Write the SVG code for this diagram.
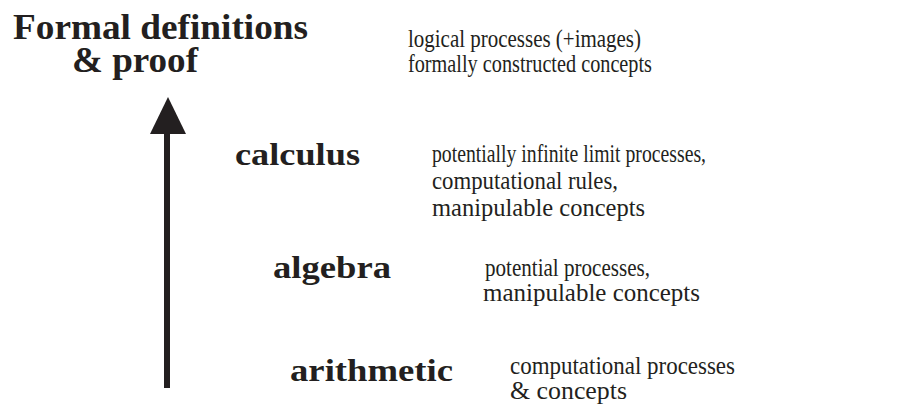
<svg xmlns="http://www.w3.org/2000/svg" width="912" height="407" viewBox="0 0 912 407">
<style>
.h{font-family:"Liberation Serif","Times New Roman",serif;font-weight:bold;fill:#231f20}
.d{font-family:"Liberation Serif","Times New Roman",serif;fill:#231f20;font-size:25px}
</style>
<rect width="912" height="407" fill="#fff"/>
<g id="connectors">
<line x1="167" y1="130" x2="167" y2="388" stroke="#231f20" stroke-width="6"/>
<polygon points="168,97 150,134 186,134" fill="#231f20"/>
</g>
<g id="formal">
<text class="h" x="13" y="39" font-size="36" textLength="295" lengthAdjust="spacingAndGlyphs">Formal definitions</text>
<text class="h" x="72" y="72" font-size="36" textLength="126" lengthAdjust="spacingAndGlyphs">&amp; proof</text>
<text class="d" x="408" y="47" textLength="233" lengthAdjust="spacingAndGlyphs">logical processes (+images)</text>
<text class="d" x="408" y="72" textLength="244" lengthAdjust="spacingAndGlyphs">formally constructed concepts</text>
</g>
<g id="calculus">
<text class="h" x="235" y="165" font-size="32" textLength="125" lengthAdjust="spacingAndGlyphs">calculus</text>
<text class="d" x="432" y="162" textLength="274" lengthAdjust="spacingAndGlyphs">potentially infinite limit processes,</text>
<text class="d" x="432" y="189" textLength="186" lengthAdjust="spacingAndGlyphs">computational rules,</text>
<text class="d" x="432" y="216" textLength="213" lengthAdjust="spacingAndGlyphs">manipulable concepts</text>
</g>
<g id="algebra">
<text class="h" x="273" y="278" font-size="32" textLength="118" lengthAdjust="spacingAndGlyphs">algebra</text>
<text class="d" x="485" y="276" textLength="165" lengthAdjust="spacingAndGlyphs">potential processes,</text>
<text class="d" x="483" y="301" textLength="217" lengthAdjust="spacingAndGlyphs">manipulable concepts</text>
</g>
<g id="arithmetic">
<text class="h" x="290" y="381" font-size="32" textLength="163" lengthAdjust="spacingAndGlyphs">arithmetic</text>
<text class="d" x="510" y="374" textLength="225" lengthAdjust="spacingAndGlyphs">computational processes</text>
<text class="d" x="510" y="399" textLength="117" lengthAdjust="spacingAndGlyphs">&amp; concepts</text>
</g>
</svg>
